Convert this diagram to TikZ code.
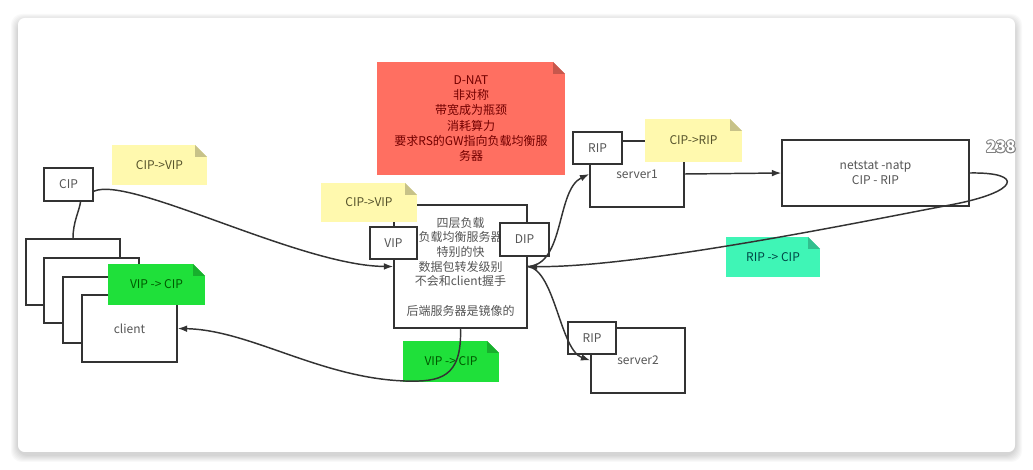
\documentclass[tikz,border=0pt]{standalone}
\usepackage{fontspec}
\newfontfamily\cjk{Noto Sans CJK SC}
\usetikzlibrary{arrows.meta}
\definecolor{linec}{HTML}{333333}
\definecolor{textc}{HTML}{555555}
\definecolor{noteyel}{HTML}{FFF9AE}
\definecolor{notegrn}{HTML}{1FE03A}
\definecolor{notetea}{HTML}{3FF5B6}
\definecolor{notered}{HTML}{FF6F61}
\begin{document}
\begin{tikzpicture}[x=0.75pt,y=-0.75pt,>={Latex[length=7pt,width=5pt]},
 box/.style={draw=linec,fill=white,line width=1.1pt,inner sep=0pt,align=center,
   text=textc,font=\cjk\fontsize{9}{11}\selectfont},
 wh/.style 2 args={minimum width=#1*0.75pt,minimum height=#2*0.75pt},
 note/.style 2 args={inner sep=0pt,fill=#1,text=#2,align=center,
   font=\cjk\fontsize{9}{11.5}\selectfont,
   path picture={
     \fill[white] ([xshift=-9pt]path picture bounding box.north east)
       -- (path picture bounding box.north east)
       -- ([yshift=-9pt]path picture bounding box.north east) -- cycle;
     \fill[#1!78!black] ([xshift=-9pt]path picture bounding box.north east)
       -- ([xshift=-9pt,yshift=-9pt]path picture bounding box.north east)
       -- ([yshift=-9pt]path picture bounding box.north east) -- cycle;}},
 link/.style={draw=linec,line width=1.1pt},
 arr/.style={link,->}]
\useasboundingbox (0,0) rectangle (1033,470);
% card with soft shadow
\fill[white] (0,0) rectangle (1033,470);
\foreach \k in {1,...,7}
  \fill[black,opacity=0.025,rounded corners=8pt] (18-\k,18-\k+3) rectangle (1015+\k,452+\k+3);
\fill[white,rounded corners=5pt] (18,18) rectangle (1015,452);

% note on top
\node[note={notered}{red!45!black},wh={188}{113}] (dnat) at (471,118.5)
  {D-NAT\\非对称\\带宽成为瓶颈\\消耗算力\\要求RS的GW指向负载均衡服\\务器};

% client side
\node[box,wh={49}{33}] (cip) at (68.5,184.5) {CIP};
\node[box,wh={94}{66}] (c1) at (73,272) {};
\node[box,wh={95}{65}] (c2) at (91.5,290.5) {};
\node[box,wh={95}{66}] (c3) at (110.5,310) {};
\node[box,wh={95}{67}] (client) at (129.5,328.5) {client};
\node[note={noteyel}{olive!50!black},wh={95}{40}] (req1) at (159.5,165) {CIP->VIP};
\node[note={notegrn}{green!35!black},wh={97}{41}] (rsp1) at (156.5,284.5) {VIP -> CIP};

% load balancer
\node[box,wh={133}{123}] (lb) at (460.5,266.5)
  {四层负载\\负载均衡服务器\\特别的快\\数据包转发级别\\不会和client握手\\[11pt]后端服务器是镜像的};
\node[note={noteyel}{olive!50!black},wh={96}{39}] (req2) at (369,202.5) {CIP->VIP};
\node[box,wh={47}{32}] (vip) at (393.5,243) {VIP};
\node[box,wh={49}{33}] (dip) at (524.5,239.5) {DIP};

% real servers
\node[box,wh={94}{66}] (s1) at (637,174) {server1};
\node[box,wh={49}{32}] (rip1) at (597.5,148) {RIP};
\node[note={noteyel}{olive!50!black},wh={97}{43}] (req3) at (693.5,140.5) {CIP->RIP};
\node[box,wh={94}{65}] (s2) at (638,360.5) {server2};
\node[box,wh={48}{32}] (rip2) at (592,338) {RIP};
\node[box,wh={187}{66}] (ns) at (875.5,173) {netstat -natp\\CIP - RIP};
\node[note={notetea}{teal!55!black},wh={94}{40}] (rsp2) at (773,257) {RIP -> CIP};
\node[note={notegrn}{green!35!black},wh={96}{41}] (rsp3) at (451,361.5) {VIP -> CIP};

% connectors
\draw[link] (cip.-55) .. controls (79,212) and (73,222) .. (c1.north);
\draw[arr] (cip.-15) .. controls (130,175) and (300,266) .. (lb.west);
\draw[arr] (lb.east) .. controls (565,265) and (556,190) .. (s1.west);
\draw[arr] (lb.east) .. controls (555,270) and (560,350) .. (s2.west);
\draw[arr] (s1.east) -- (ns.west);
\draw[arr] (ns.east) .. controls (1025,172) and (1020,192) .. (950,205)
  .. controls (880,218) and (640,268) .. (lb.east);
\draw[arr] (lb.south) .. controls (462,378) and (440,382) .. (405,381)
  .. controls (320,378) and (250,330) .. (client.east);

% slide number
\foreach \a in {0,45,...,315}
  \node[text=gray,font=\cjk\bfseries\fontsize{12}{14}\selectfont,shift={(\a:0.7pt)}] at (1001,147) {238};
\node[text=white,font=\cjk\bfseries\fontsize{12}{14}\selectfont] (num) at (1001,147) {238};
\end{tikzpicture}
\end{document}
